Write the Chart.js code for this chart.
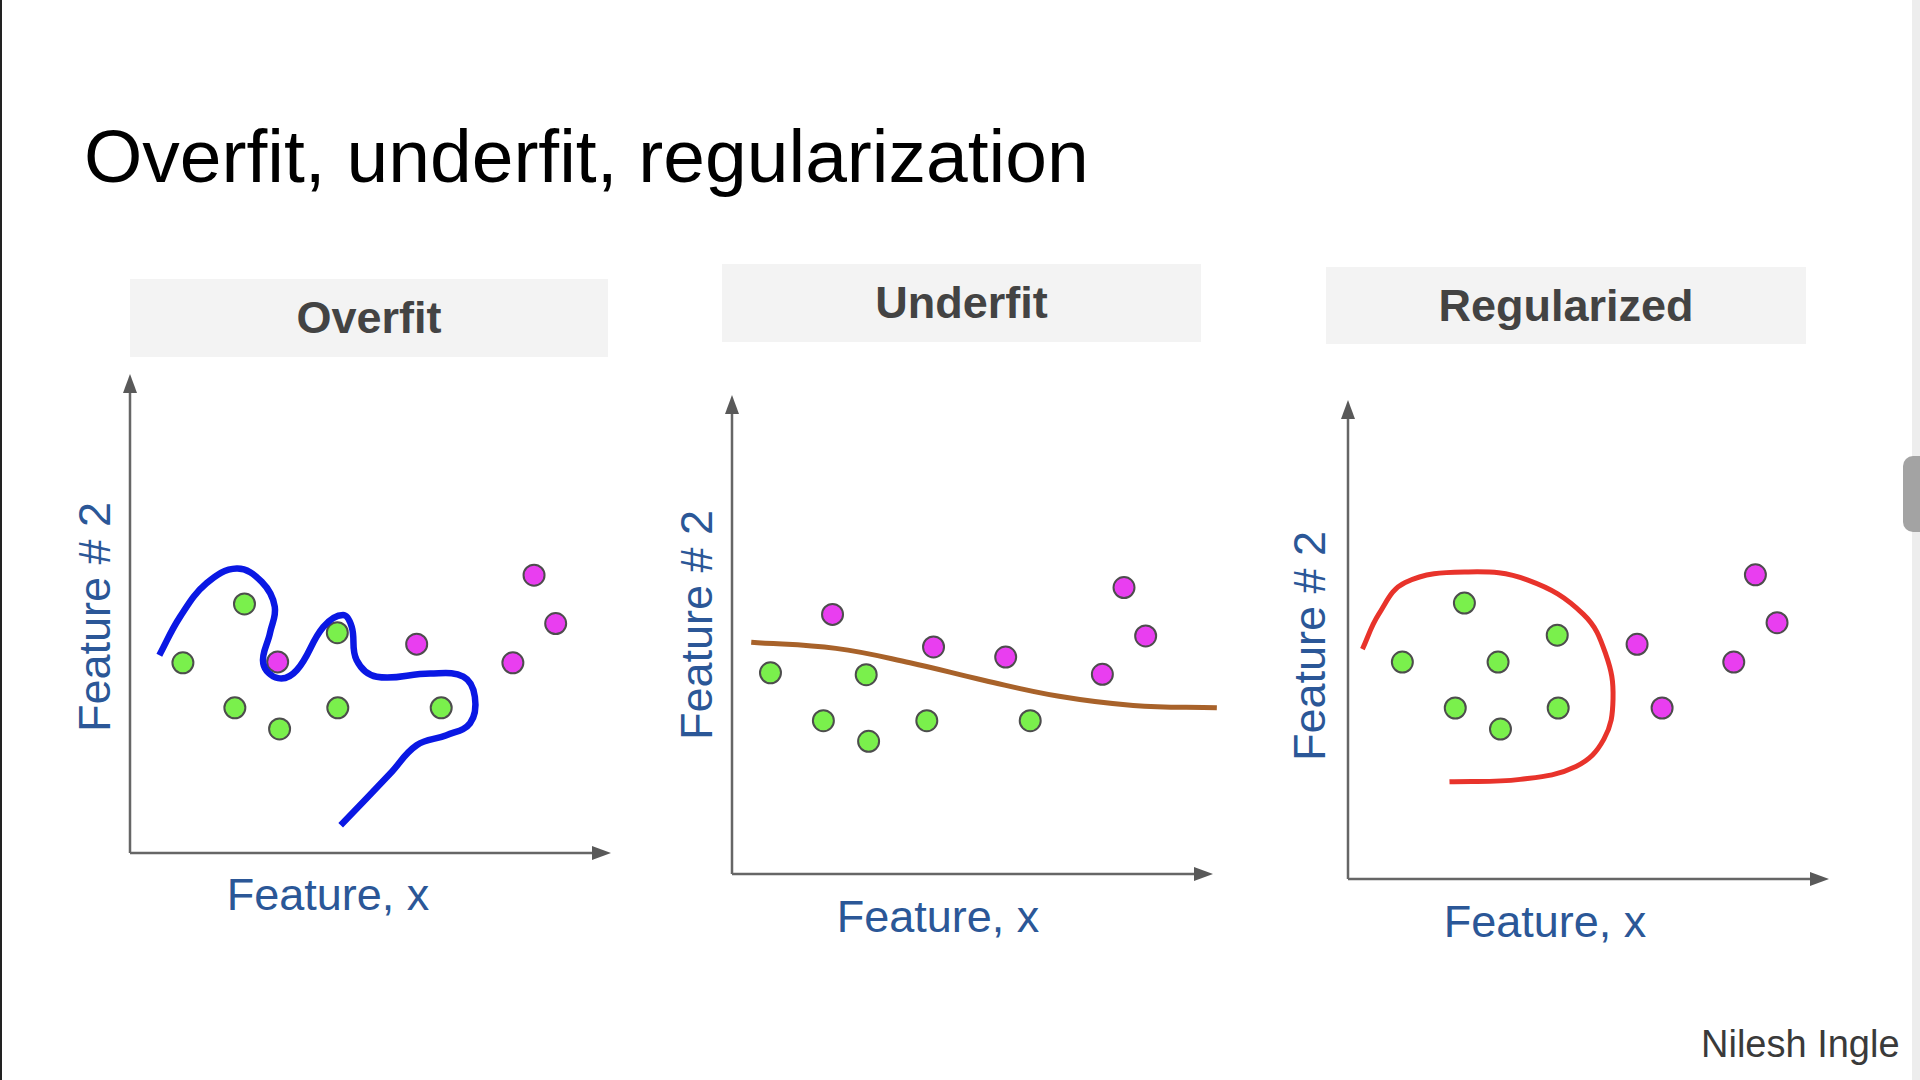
<!DOCTYPE html>
<html>
<head>
<meta charset="utf-8">
<title>Overfit, underfit, regularization</title>
<script src="https://cdn.jsdelivr.net/npm/chart.js@4.4.1/dist/chart.umd.min.js"></script>
<style>
  body {
    margin: 0;
    width: 1920px;
    height: 1080px;
    background: #fff;
    position: relative;
    overflow: hidden;
    font-family: "Liberation Sans", Arial, sans-serif;
  }
  .abs { position: absolute; }
  .title { left: 84px; top: 119px; font-size: 75px; line-height: 1; color: #000; white-space: nowrap; }
  .head {
    background: #f3f3f3;
    color: #434343;
    font-weight: bold;
    font-size: 45px;
    text-align: center;
  }
  .lbl { font-size: 45px; line-height: 1; color: #2b5797; white-space: nowrap; transform: translate(-50%, -50%); }
  .ylbl { transform: translate(-50%, -50%) rotate(-90deg); }
  .author { left: 1701px; top: 1025px; font-size: 38px; line-height: 1; color: #3a3a3a; white-space: nowrap; }
  canvas { position: absolute; }
</style>
</head>
<body>
<div class="abs" style="left:0;top:0;width:2px;height:1080px;background:#222;"></div>
<div class="abs" style="left:1912px;top:0;width:8px;height:1080px;background:#ededed;"></div>
<div class="abs" style="left:1903px;top:456px;width:17px;height:76px;border-radius:10px 0 0 10px;background:#a3a3a3;"></div>

<div class="abs title">Overfit, underfit, regularization</div>

<div class="abs head" style="left:130px;top:279px;width:478px;height:78px;line-height:78px;">Overfit</div>
<div class="abs head" style="left:722px;top:264px;width:479px;height:78px;line-height:78px;">Underfit</div>
<div class="abs head" style="left:1326px;top:267px;width:480px;height:77px;line-height:77px;">Regularized</div>

<div class="abs lbl ylbl" style="left:94px;top:617px;">Feature # 2</div>
<div class="abs lbl ylbl" style="left:696px;top:625px;">Feature # 2</div>
<div class="abs lbl ylbl" style="left:1309px;top:646px;">Feature # 2</div>

<div class="abs lbl" style="left:328px;top:894px;">Feature, x</div>
<div class="abs lbl" style="left:938px;top:916px;">Feature, x</div>
<div class="abs lbl" style="left:1545px;top:921px;">Feature, x</div>

<div class="abs author">Nilesh Ingle</div>

<canvas id="overfit"></canvas>
<canvas id="underfit"></canvas>
<canvas id="regularized"></canvas>

<script>
// values on a 0..10 scale for both features
const overfitGreen = [
  { x: 1.10, y: 3.97 }, { x: 2.38, y: 5.20 }, { x: 2.18, y: 3.03 }, { x: 3.11, y: 2.59 },
  { x: 4.31, y: 4.60 }, { x: 4.32, y: 3.03 }, { x: 6.47, y: 3.03 },
];
const overfitMagenta = [
  { x: 3.07, y: 3.99 }, { x: 5.96, y: 4.36 }, { x: 7.96, y: 3.97 }, { x: 8.40, y: 5.80 }, { x: 8.85, y: 4.79 },
];
const overfitCurve = [
  { x: 0.61, y: 4.13 }, { x: 1.04, y: 4.93 }, { x: 1.59, y: 5.63 }, { x: 2.22, y: 5.94 },
  { x: 2.74, y: 5.66 }, { x: 3.01, y: 5.14 }, { x: 2.91, y: 4.59 }, { x: 2.77, y: 3.96 },
  { x: 3.08, y: 3.65 }, { x: 3.47, y: 3.82 }, { x: 4.02, y: 4.72 }, { x: 4.43, y: 4.97 },
  { x: 4.61, y: 4.72 }, { x: 4.71, y: 4.03 }, { x: 5.13, y: 3.68 }, { x: 6.24, y: 3.75 },
  { x: 6.93, y: 3.68 }, { x: 7.17, y: 3.26 }, { x: 7.07, y: 2.71 }, { x: 6.58, y: 2.46 },
  { x: 5.96, y: 2.25 }, { x: 5.41, y: 1.66 }, { x: 4.38, y: 0.58 },
];

const underfitGreen = [
  { x: 0.80, y: 4.20 }, { x: 1.90, y: 3.20 }, { x: 2.79, y: 4.16 },
  { x: 2.84, y: 2.77 }, { x: 4.05, y: 3.20 }, { x: 6.20, y: 3.20 },
];
const underfitMagenta = [
  { x: 2.09, y: 5.42 }, { x: 4.19, y: 4.74 }, { x: 5.69, y: 4.53 },
  { x: 7.70, y: 4.17 }, { x: 8.15, y: 5.98 }, { x: 8.60, y: 4.97 },
];
const underfitCurve = [
  { x: 0.40, y: 4.84 }, { x: 2.16, y: 4.71 }, { x: 3.70, y: 4.41 }, { x: 5.25, y: 4.04 },
  { x: 6.80, y: 3.71 }, { x: 8.34, y: 3.52 }, { x: 10.08, y: 3.47 },
];

const regGreen = [
  { x: 1.13, y: 4.53 }, { x: 2.42, y: 5.76 }, { x: 2.23, y: 3.57 }, { x: 3.12, y: 4.53 },
  { x: 3.17, y: 3.13 }, { x: 4.35, y: 5.09 }, { x: 4.37, y: 3.57 },
];
const regMagenta = [
  { x: 6.01, y: 4.90 }, { x: 6.53, y: 3.57 }, { x: 8.02, y: 4.53 }, { x: 8.47, y: 6.35 }, { x: 8.92, y: 5.35 },
];
const regCurve = [
  { x: 0.30, y: 4.80 }, { x: 0.64, y: 5.53 }, { x: 1.19, y: 6.19 }, { x: 2.50, y: 6.41 },
  { x: 3.74, y: 6.24 }, { x: 4.89, y: 5.53 }, { x: 5.36, y: 4.69 }, { x: 5.51, y: 3.76 },
  { x: 5.32, y: 2.92 }, { x: 4.74, y: 2.35 }, { x: 3.58, y: 2.08 }, { x: 2.11, y: 2.03 },
];

const PAD = 30;

// arrows for both axes, drawn from the scales
const arrowAxes = {
  id: "arrowAxes",
  beforeDatasetsDraw(chart) {
    const { ctx } = chart;
    const xs = chart.scales.x;
    const ys = chart.scales.y;
    const x0 = xs.getPixelForValue(0);
    const y0 = ys.getPixelForValue(0);
    const x1 = xs.getPixelForValue(10);
    const y1 = ys.getPixelForValue(10);
    const len = 19;
    const half = 7;
    ctx.save();
    ctx.strokeStyle = "#666";
    ctx.fillStyle = "#595959";
    ctx.lineWidth = 2.5;
    ctx.beginPath();
    ctx.moveTo(x0, y0);
    ctx.lineTo(x1 - len + 2, y0);
    ctx.moveTo(x0, y0);
    ctx.lineTo(x0, y1 + len - 2);
    ctx.stroke();
    ctx.beginPath();
    ctx.moveTo(x1, y0);
    ctx.lineTo(x1 - len, y0 - half);
    ctx.lineTo(x1 - len, y0 + half);
    ctx.closePath();
    ctx.fill();
    ctx.beginPath();
    ctx.moveTo(x0, y1);
    ctx.lineTo(x0 - half, y1 + len);
    ctx.lineTo(x0 + half, y1 + len);
    ctx.closePath();
    ctx.fill();
    ctx.restore();
  },
};

function pointSet(data, color) {
  return {
    data,
    pointRadius: 10.5,
    pointBackgroundColor: color,
    pointBorderColor: "#4d4d4d",
    pointBorderWidth: 2,
    showLine: false,
    order: 2,
    clip: false,
  };
}

function makePanel(id, left, top, green, magenta, curve, curveColor, width) {
  const canvas = document.getElementById(id);
  canvas.width = 481 + PAD * 2;
  canvas.height = 479 + PAD * 2;
  canvas.style.left = `${left - PAD}px`;
  canvas.style.top = `${top - PAD}px`;
  return new Chart(canvas.getContext("2d"), {
    type: "scatter",
    data: {
      datasets: [
        {
          data: curve,
          showLine: true,
          borderColor: curveColor,
          borderWidth: width,
          pointRadius: 0,
          tension: 0.4,
          fill: false,
          borderCapStyle: "butt",
          order: 1,
          clip: false,
        },
        pointSet(green, "#7af04c"),
        pointSet(magenta, "#e93ef0"),
      ],
    },
    options: {
      responsive: false,
      animation: false,
      events: [],
      layout: { padding: PAD },
      plugins: { legend: { display: false }, tooltip: { enabled: false } },
      scales: {
        x: { type: "linear", min: 0, max: 10, display: false },
        y: { type: "linear", min: 0, max: 10, display: false },
      },
    },
    plugins: [arrowAxes],
  });
}

makePanel("overfit", 130, 374, overfitGreen, overfitMagenta, overfitCurve, "#0a18e4", 6.5);
makePanel("underfit", 732, 395, underfitGreen, underfitMagenta, underfitCurve, "#a8622a", 5);
makePanel("regularized", 1348, 400, regGreen, regMagenta, regCurve, "#e8332b", 5);
</script>
</body>
</html>
